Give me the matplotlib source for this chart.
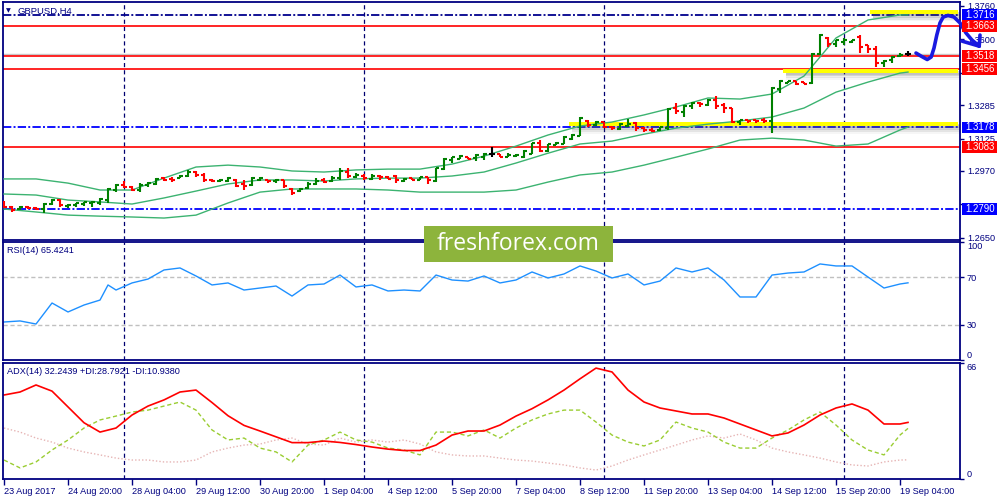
import numpy as np
import matplotlib
matplotlib.use('Agg')
import matplotlib.pyplot as plt
import matplotlib.transforms as mtransforms
from matplotlib.patches import Rectangle

plt.rcParams['font.family'] = ['Liberation Sans', 'DejaVu Sans']
plt.rcParams['lines.scale_dashes'] = False

# ---- GBPUSD H4 bars (bar index 0 = 23 Aug 12:00) ----
opens = [1.2822,1.2798,1.2788,1.2798,1.2793,1.2788,1.2812,1.2831,1.2803,1.2807,
         1.2812,1.2817,1.2817,1.2831,1.2879,1.2903,1.2893,1.2879,1.2903,1.2908,
         1.2936,1.2932,1.2936,1.2946,1.2965,1.2951,1.2927,1.2922,1.2922,1.2927,
         1.2908,1.2903,1.2927,1.2927,1.2922,1.2927,1.2884,1.2874,1.2888,1.2908,
         1.2927,1.2922,1.2936,1.2965,1.2941,1.2946,1.2932,1.2946,1.2941,1.2946,
         1.2922,1.2936,1.2927,1.2941,1.2922,1.2979,1.3022,1.3027,1.3036,1.3032,
         1.3036,1.3051,1.3049,1.3036,1.3041,1.3036,1.3051,1.3103,1.3065,1.3094,
         1.3099,1.3123,1.3137,1.3209,1.3190,1.3204,1.3180,1.3170,1.3185,1.3199,
         1.3175,1.3166,1.3166,1.3175,1.3271,1.3252,1.3281,1.3295,1.3285,1.3309,
         1.3285,1.3271,1.3204,1.3214,1.3214,1.3214,1.3209,1.3361,1.3390,1.3400,
         1.3395,1.3390,1.3529,1.3606,1.3577,1.3587,1.3587,1.3611,1.3572,1.3553,
         1.3486,1.3500,1.3520,1.3529]
highs = [1.2826,1.2803,1.2803,1.2803,1.2798,1.2817,1.2836,1.2836,1.2812,1.2817,
         1.2822,1.2826,1.2841,1.2888,1.2908,1.2922,1.2898,1.2912,1.2917,1.2936,
         1.2941,1.2941,1.2951,1.2975,1.2970,1.2960,1.2932,1.2932,1.2941,1.2932,
         1.2927,1.2941,1.2941,1.2927,1.2932,1.2927,1.2888,1.2888,1.2917,1.2936,
         1.2936,1.2946,1.2984,1.2984,1.2960,1.2955,1.2955,1.2951,1.2946,1.2951,
         1.2936,1.2936,1.2941,1.2941,1.2984,1.3032,1.3036,1.3046,1.3036,1.3051,
         1.3055,1.3084,1.3051,1.3055,1.3051,1.3070,1.3103,1.3118,1.3099,1.3108,
         1.3137,1.3146,1.3228,1.3214,1.3209,1.3204,1.3185,1.3199,1.3218,1.3204,
         1.3180,1.3175,1.3180,1.3271,1.3295,1.3285,1.3300,1.3300,1.3314,1.3328,
         1.3295,1.3271,1.3214,1.3214,1.3214,1.3223,1.3371,1.3405,1.3400,1.3400,
         1.3395,1.3534,1.3625,1.3611,1.3596,1.3606,1.3596,1.3620,1.3572,1.3568,
         1.3500,1.3520,1.3534,1.3544]
lows = [1.2793,1.2774,1.2783,1.2788,1.2783,1.2769,1.2807,1.2798,1.2793,1.2798,
        1.2803,1.2798,1.2807,1.2817,1.2869,1.2888,1.2874,1.2869,1.2893,1.2903,
        1.2922,1.2917,1.2936,1.2941,1.2941,1.2917,1.2917,1.2917,1.2917,1.2893,
        1.2879,1.2898,1.2922,1.2912,1.2912,1.2888,1.2855,1.2869,1.2884,1.2903,
        1.2912,1.2917,1.2927,1.2936,1.2936,1.2927,1.2927,1.2927,1.2932,1.2912,
        1.2917,1.2927,1.2927,1.2908,1.2917,1.2975,1.3008,1.3027,1.3027,1.3017,
        1.3022,1.3036,1.3036,1.3036,1.3036,1.3032,1.3051,1.3060,1.3060,1.3094,
        1.3099,1.3118,1.3137,1.3180,1.3185,1.3175,1.3166,1.3166,1.3180,1.3161,
        1.3156,1.3156,1.3161,1.3166,1.3242,1.3228,1.3266,1.3276,1.3281,1.3266,
        1.3247,1.3199,1.3190,1.3199,1.3199,1.3199,1.3151,1.3342,1.3390,1.3381,
        1.3385,1.3385,1.3524,1.3563,1.3563,1.3572,1.3582,1.3534,1.3534,1.3467,
        1.3467,1.3486,1.3515,1.3520]
closes = [1.2798,1.2783,1.2798,1.2793,1.2788,1.2812,1.2831,1.2807,1.2807,1.2817,
          1.2822,1.2822,1.2836,1.2884,1.2903,1.2893,1.2879,1.2903,1.2912,1.2932,
          1.2927,1.2927,1.2946,1.2965,1.2951,1.2927,1.2922,1.2927,1.2936,1.2898,
          1.2898,1.2936,1.2936,1.2922,1.2927,1.2898,1.2865,1.2884,1.2908,1.2922,
          1.2917,1.2936,1.2970,1.2946,1.2951,1.2936,1.2946,1.2941,1.2934,1.2927,
          1.2932,1.2927,1.2939,1.2927,1.2982,1.3027,1.3036,1.3041,1.3029,1.3046,
          1.3051,1.3051,1.3036,1.3046,1.3046,1.3065,1.3103,1.3065,1.3099,1.3103,
          1.3132,1.3144,1.3223,1.3190,1.3204,1.3180,1.3175,1.3194,1.3194,1.3175,
          1.3166,1.3163,1.3180,1.3266,1.3257,1.3281,1.3295,1.3290,1.3309,1.3281,
          1.3271,1.3204,1.3214,1.3209,1.3209,1.3207,1.3366,1.3400,1.3398,1.3385,
          1.3385,1.3529,1.3620,1.3577,1.3596,1.3596,1.3596,1.3563,1.3553,1.3486,
          1.3496,1.3515,1.3524,1.3529]

# Bollinger bands
band_idx = [0,4,8,12,16,20,24,28,32,36,40,44,48,52,56,60,64,68,72,76,80,84,88,92,96,100,104,108,112,113]
bb_upper = [1.2932,1.2932,1.2912,1.2879,1.2879,1.2936,1.2989,1.2998,1.2989,1.2970,
            1.2965,1.2975,1.2979,1.2979,1.3003,1.3041,1.3089,1.3142,1.3185,1.3204,
            1.3238,1.3276,1.3319,1.3314,1.3338,1.3424,1.3606,1.3692,1.3716,1.3716]
bb_mid = [1.2860,1.2855,1.2831,1.2822,1.2812,1.2841,1.2874,1.2908,1.2927,1.2927,
          1.2922,1.2932,1.2936,1.2936,1.2946,1.2965,1.3008,1.3055,1.3099,1.3113,
          1.3146,1.3175,1.3194,1.3209,1.3228,1.3271,1.3347,1.3395,1.3438,1.3443]
bb_lower = [1.2788,1.2774,1.2759,1.2754,1.2750,1.2745,1.2759,1.2817,1.2869,1.2884,
            1.2884,1.2884,1.2879,1.2869,1.2869,1.2869,1.2879,1.2917,1.2951,1.2965,
            1.2998,1.3036,1.3075,1.3118,1.3127,1.3118,1.3089,1.3099,1.3166,1.3180]

# RSI(14)
rsi_idx = [0,2,4,6,8,10,12,13] + list(range(14, 113, 2)) + [113]
rsi_val = [32.2,33.1,30.5,48.3,40.7,46.6,50.8,63.6,59.3,65.3,68.6,76.3,78.0,71.2,63.6,65.3,59.3,61.0,
           62.7,54.2,63.6,64.4,72.0,61.9,63.6,58.5,59.3,58.5,72.0,67.8,66.9,71.2,65.3,67.8,74.6,69.5,
           72.9,79.7,75.4,69.5,72.9,63.6,66.9,78.0,74.6,78.0,67.8,53.4,53.4,72.0,73.7,74.6,81.4,79.7,
           79.7,70.3,61.0,64.4,65.4]

# ADX(14)
adx_idx = list(range(0, 113, 2)) + [113]
adx = [47.8,49.5,53.5,50.0,41.0,32.0,26.7,29.0,36.4,41.5,45.0,49.5,50.6,43.5,36.0,30.5,27.3,24.0,
       20.7,20.7,21.6,20.8,19.6,18.2,17.0,16.2,16.2,19.3,25.0,27.3,27.3,30.7,35.8,40.0,45.0,50.6,
       57.0,63.1,60.9,50.6,43.8,40.4,38.7,37.0,37.0,34.7,31.3,27.9,24.5,26.2,30.7,36.4,40.4,42.7,
       39.2,31.3,31.3,32.2]
plus_di = [10.8,6.3,9.7,16.5,22.2,29.0,33.6,35.8,38.1,39.2,41.5,43.8,39.2,27.9,22.2,23.3,17.6,15.4,
           9.7,19.3,22.2,26.7,22.2,21.0,17.6,16.5,13.7,26.7,26.7,24.5,27.9,23.3,29.0,33.6,37.0,39.2,
           39.2,32.4,25.0,21.0,18.8,22.2,32.4,29.0,26.7,21.0,17.6,17.6,23.3,27.9,33.6,38.1,30.7,22.2,
           16.5,13.7,25.0,28.8]
minus_di = [29.0,26.7,23.3,21.0,17.6,15.4,13.7,11.9,10.8,10.8,9.7,9.7,10.8,15.4,17.6,19.3,19.9,22.2,
            23.3,19.9,19.3,23.3,21.0,22.2,21.0,22.2,19.9,15.4,13.7,13.1,13.1,11.9,10.8,10.2,9.1,8.0,
            6.3,5.1,7.4,10.8,13.7,16.5,19.3,22.2,24.5,23.3,25.6,22.2,17.6,15.4,13.7,11.9,9.7,8.0,
            7.4,9.7,10.8,10.9]

# horizontal levels
red_levels = [1.3663, 1.3518, 1.3456, 1.3083]
dashdot_levels = [1.3716, 1.3178, 1.2790]
dashdot_colors = ['#00008c', '#0000ff', '#0000ff']
current_price = 1.3530
label_levels = [1.3716, 1.3663, 1.3518, 1.3456, 1.3178, 1.3083, 1.2790]
label_colors = ['#0000ff', '#ff0000', '#ff0000', '#ff0000', '#0000ff', '#ff0000', '#0000ff']
zone_start = [108.25, 97.4, 70.6]
zone_top = [1.3740, 1.3456, 1.3206]
zone_bottom = [1.3721, 1.3440, 1.3185]

# hand-drawn forecast arrow (bar, price)
arrow_x = [114.0,114.6,115.4,115.9,116.25,116.6,117.0,117.4,118.0,118.75,119.5,120.25,121.0,121.9]
arrow_y = [1.3534,1.3520,1.3503,1.3515,1.3558,1.3620,1.3678,1.3706,1.3714,1.3706,1.3678,1.3630,1.3596,1.3567]
head_a_x, head_a_y = [119.75, 121.9], [1.3591, 1.3567]
head_b_x, head_b_y = [122.0, 121.9], [1.3620, 1.3567]

separators = [15, 45, 75, 105]
xtick_idx = list(range(0, 113, 8))
xtick_lbl = ['23 Aug 2017', '24 Aug 20:00', '28 Aug 04:00', '29 Aug 12:00', '30 Aug 20:00',
             '1 Sep 04:00', '4 Sep 12:00', '5 Sep 20:00', '7 Sep 04:00', '8 Sep 12:00',
             '11 Sep 20:00', '13 Sep 04:00', '14 Sep 12:00', '15 Sep 20:00', '19 Sep 04:00']
price_ticks = [1.2650, 1.2810, 1.2970, 1.3125, 1.3285, 1.3440, 1.3600, 1.3760]
# ticks whose labels sit under a level box
hidden_ticks = [1.2810, 1.3440]

navy = '#000080'
green = '#008000'
red = '#ff0000'
band_col = '#3cb371'
fs = 6.6

fig = plt.figure(figsize=(10, 5), dpi=100)
L, W = 0.0025, 0.9575
ax1 = fig.add_axes([L, 0.520, W, 0.476])
ax2 = fig.add_axes([L, 0.280, W, 0.236])
ax3 = fig.add_axes([L, 0.042, W, 0.232])

for ax in (ax1, ax2, ax3):
    ax.set_xlim(-0.19, 119.5)
    for s in ax.spines.values():
        s.set_color(navy)
        s.set_linewidth(1.3)
    ax.yaxis.tick_right()
    ax.tick_params(axis='y', colors=navy, labelcolor=navy, length=3, width=1,
                   direction='out', pad=2, labelsize=fs)
    ax.tick_params(axis='x', bottom=False, labelbottom=False)
    for s in separators:
        ax.axvline(s, color='#000070', ls=(0, (3, 2.2)), lw=0.9, zorder=1)

# ---- main price panel ----
ax1.set_ylim(1.2640, 1.3778)
ax1.set_yticks(price_ticks)
ax1.set_yticklabels(['' if v in hidden_ticks else '%.4f' % v for v in price_ticks])

ax1.axhline(current_price, color='#c8c8c8', lw=1, zorder=1)
for lv in red_levels:
    ax1.axhline(lv, color=red, lw=1.2, zorder=2)
for lv, c in zip(dashdot_levels, dashdot_colors):
    ax1.axhline(lv, color=c, lw=1.3, ls=(0, (6, 1.6, 1.4, 1.6)), zorder=2)

for xs, top, bot in zip(zone_start, zone_top, zone_bottom):
    h = top - bot
    for k, a in enumerate([0.22, 0.16, 0.10, 0.05]):
        ax1.add_patch(Rectangle((xs + 0.4, bot - (k + 1) * 0.0009), 119.5 - xs, h,
                                facecolor='#505050', edgecolor='none', alpha=a, zorder=2.2))
    ax1.add_patch(Rectangle((xs, bot), 119.3 - xs, h, facecolor='#ffff00',
                            edgecolor='none', zorder=2.4))

ax1.plot(band_idx, bb_upper, color=band_col, lw=1, zorder=3)
ax1.plot(band_idx, bb_mid, color=band_col, lw=1, zorder=3)
ax1.plot(band_idx, bb_lower, color=band_col, lw=1, zorder=3)

idx = np.arange(len(closes))
o = np.array(opens); c = np.array(closes)
cols = np.where(c > o, green, np.where(c < o, red, 'black'))
ax1.vlines(idx, lows, highs, colors=cols, lw=1.5, zorder=4)
ax1.hlines(o, idx - 0.42, idx, colors=cols, lw=1.5, zorder=4)
ax1.hlines(c, idx, idx + 0.42, colors=cols, lw=1.5, zorder=4)

ax1.plot(arrow_x, arrow_y, color='#1a1ae0', lw=2.6, clip_on=False, zorder=6,
         solid_capstyle='round', solid_joinstyle='round')
ax1.plot(head_a_x, head_a_y, color='#1a1ae0', lw=2.6, clip_on=False, zorder=6, solid_capstyle='round')
ax1.plot(head_b_x, head_b_y, color='#1a1ae0', lw=2.6, clip_on=False, zorder=6, solid_capstyle='round')

trans = mtransforms.blended_transform_factory(ax1.transAxes, ax1.transData)
bh = 0.0057
for lv, col in zip(label_levels, label_colors):
    ax1.add_patch(Rectangle((1.0022, lv - bh / 2), 0.0365, bh, transform=trans,
                            facecolor=col, edgecolor='none', clip_on=False, zorder=7))
    ax1.text(1.0205, lv, '%.4f' % lv, transform=trans, color='white', fontsize=fs + 0.3,
             ha='center', va='center', clip_on=False, zorder=8)

ax1.text(0.0057, 0.962, '\u25bc', transform=ax1.transAxes, color=navy, fontsize=4.5,
         ha='center', va='center', family='DejaVu Sans')
ax1.text(0.016, 0.962, 'GBPUSD,H4', transform=ax1.transAxes, color=navy, fontsize=fs + 0.2,
         ha='left', va='center')

# ---- RSI panel ----
ax2.set_ylim(0, 100)
ax2.axhline(70, color='#c0c0c0', lw=1, ls=(0, (3, 2)))
ax2.axhline(30, color='#c0c0c0', lw=1, ls=(0, (3, 2)))
ax2.plot(rsi_idx, rsi_val, color='#1e90ff', lw=1)
ax2.set_yticks([0, 30, 70, 100])
ax2.set_yticklabels(['0', '30', '70', '100'])
lbls = ax2.get_yticklabels()
lbls[0].set_va('bottom'); lbls[-1].set_va('top')
ax2.text(0.0047, 0.924, 'RSI(14) 65.4241', transform=ax2.transAxes, color=navy,
         fontsize=fs, ha='left', va='center')

# ---- ADX panel ----
ax3.set_ylim(0, 66)
ax3.plot(adx_idx, minus_di, color='#e6b4b4', lw=1, ls=(0, (1, 1.5)))
ax3.plot(adx_idx, plus_di, color='#9acd32', lw=1, ls=(0, (3, 2)))
ax3.plot(adx_idx, adx, color='#ff0000', lw=1.2)
ax3.set_yticks([0, 66])
ax3.set_yticklabels(['0', '66'])
lbls = ax3.get_yticklabels()
lbls[0].set_va('bottom'); lbls[-1].set_va('top')
ax3.text(0.0047, 0.931, 'ADX(14) 32.2439 +DI:28.7921 -DI:10.9380', transform=ax3.transAxes,
         color=navy, fontsize=fs, ha='left', va='center')

ax3.tick_params(axis='x', bottom=True, labelbottom=True, length=4, width=1, colors=navy,
                labelcolor=navy, labelsize=fs, pad=2)
ax3.set_xticks(xtick_idx)
ax3.set_xticklabels(xtick_lbl)
for t in ax3.get_xticklabels():
    t.set_ha('left')

# ---- watermark ----
fig.patches.append(Rectangle((0.424, 0.476), 0.189, 0.072, transform=fig.transFigure,
                             facecolor='#8db43c', edgecolor='none', zorder=10))
fig.text(0.5185, 0.511, 'freshforex.com', color='white', fontsize=16.5, family='Open Sans',
         ha='center', va='center', zorder=11)

fig.savefig('out.png', dpi=100)
